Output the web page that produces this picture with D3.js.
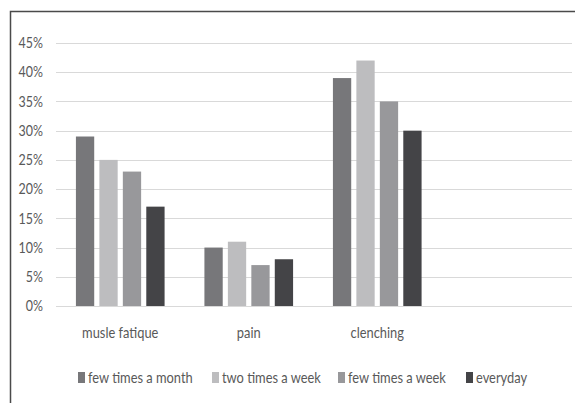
<!DOCTYPE html>
<html>
<head>
<meta charset="utf-8">
<script src="https://cdn.jsdelivr.net/npm/d3@7"></script>
<style>
  body { margin: 0; background: #fff; }
  text { font-family: Lato, "Liberation Sans", sans-serif; fill: #595959; }
</style>
</head>
<body>
<div id="chart"></div>
<script>
// categories (last slot is empty in the original)
const categories = ['musle fatique', 'pain', 'clenching', ''];
const seriesNames = ['few times a month', 'two times a week', 'few times a week', 'everyday'];
const seriesColors = ['#77777a', '#bdbdbf', '#98989b', '#444447'];
// values in percent, one array per series
const fewTimesMonth = [29, 10, 39];
const twoTimesWeek = [25, 11, 42];
const fewTimesWeek = [23, 7, 35];
const everyday = [17, 8, 30];
const yTicks = [0, 5, 10, 15, 20, 25, 30, 35, 40, 45];

const seriesValues = [fewTimesMonth, twoTimesWeek, fewTimesWeek, everyday];

const W = 575, H = 403;
const narrow = 0.83; // squeeze text to look like the condensed original font

const svg = d3.select('#chart').append('svg')
    .attr('width', W)
    .attr('height', H);

// outer border
svg.append('rect')
    .attr('x', 10.5).attr('y', 11.5)
    .attr('width', 600).attr('height', 420)
    .attr('fill', 'none')
    .attr('stroke', '#4a4a4a')
    .attr('stroke-width', 1.5);

const x = d3.scaleBand().domain(d3.range(categories.length)).range([56, 570]).paddingInner(0).paddingOuter(0);
const y = d3.scaleLinear().domain([0, 45]).range([306, 43]);

// group layout inside band
const groupWidth = x.bandwidth() * 0.69;
const xs = d3.scaleBand().domain(d3.range(seriesNames.length)).range([0, groupWidth]).paddingInner(0.22);

// gridlines
svg.append('g')
    .selectAll('line')
    .data(yTicks)
    .enter().append('line')
    .attr('x1', 56).attr('x2', 572)
    .attr('y1', d => Math.round(y(d)) + 0.5)
    .attr('y2', d => Math.round(y(d)) + 0.5)
    .attr('stroke', '#d9d9d9')
    .attr('stroke-width', 1.2);

// y labels
svg.append('g')
    .selectAll('text')
    .data(yTicks)
    .enter().append('text')
    .attr('transform', d => 'translate(43,' + y(d) + ') scale(' + narrow + ',1)')
    .attr('dy', '0.35em')
    .attr('text-anchor', 'end')
    .style('font-size', '15px')
    .text(d => d + '%');

// bars
const groups = svg.append('g')
    .selectAll('g')
    .data(categories.slice(0, 3))
    .enter().append('g')
    .attr('transform', (d, i) => 'translate(' + (x(i) + (x.bandwidth() - groupWidth) / 2) + ',0)');

groups.selectAll('rect')
    .data((d, i) => seriesValues.map((s, j) => ({ s: j, v: s[i] })))
    .enter().append('rect')
    .attr('x', d => xs(d.s))
    .attr('y', d => y(d.v))
    .attr('width', xs.bandwidth())
    .attr('height', d => y(0) - y(d.v))
    .attr('fill', d => seriesColors[d.s]);

// category labels
svg.append('g')
    .selectAll('text')
    .data(categories)
    .enter().append('text')
    .attr('transform', (d, i) => 'translate(' + (x(i) + x.bandwidth() / 2) + ',338) scale(' + narrow + ',1)')
    .attr('text-anchor', 'middle')
    .style('font-size', '15.5px')
    .text(d => d);

// legend
const legendX = [78, 212, 338, 466];
const legend = svg.append('g')
    .selectAll('g')
    .data(seriesNames)
    .enter().append('g')
    .attr('transform', (d, i) => 'translate(' + legendX[i] + ',372)');

legend.append('rect')
    .attr('width', 7).attr('height', 11)
    .attr('fill', (d, i) => seriesColors[i]);

legend.append('text')
    .attr('transform', 'translate(10,6) scale(' + narrow + ',1)')
    .attr('dy', '0.35em')
    .style('font-size', '15.5px')
    .text(d => d);
</script>
</body>
</html>
